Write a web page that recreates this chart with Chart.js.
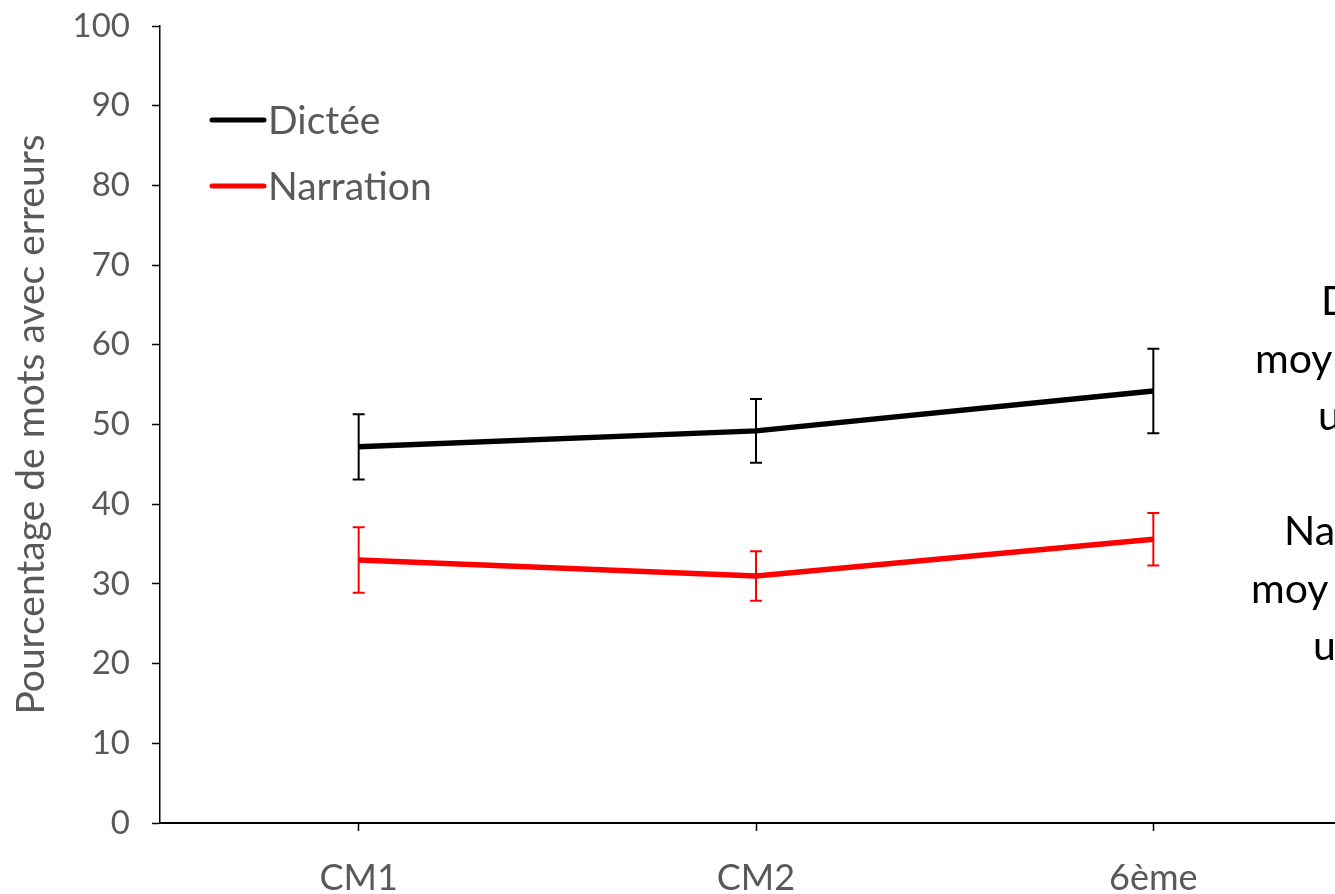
<!DOCTYPE html>
<html>
<head>
<meta charset="utf-8">
<script src="https://cdn.jsdelivr.net/npm/chart.js@4"></script>
<style>
  html, body { margin: 0; padding: 0; background: #fff; width: 1335px; height: 894px; overflow: hidden; }
  #wrap { position: relative; width: 1360px; height: 894px; }
  .side { position: absolute; font-family: Lato, "Open Sans", sans-serif; font-size: 41px; color: #000; white-space: nowrap; line-height: 1; }
</style>
</head>
<body>
<div id="wrap">
  <canvas id="chart" width="1360" height="894"></canvas>
  <div class="side" style="left:1321px; top:279px;">D</div>
  <div class="side" style="left:1255px; top:337px;">moy</div>
  <div class="side" style="left:1318px; top:394px;">u</div>
  <div class="side" style="left:1284px; top:509px;">Na</div>
  <div class="side" style="left:1251px; top:567px;">moy</div>
  <div class="side" style="left:1313px; top:624px;">u</div>
</div>
<script>
const categories = ['CM1', 'CM2', '6ème'];
const dicteeValues = [47.2, 49.2, 54.2];
const dicteeErrors = [4.1, 4.0, 5.3];
const narrationValues = [33.0, 31.0, 35.6];
const narrationErrors = [4.1, 3.1, 3.3];
const yTicks = [0, 10, 20, 30, 40, 50, 60, 70, 80, 90, 100];

const FONT = 'Lato, "Open Sans", sans-serif';
const GREY = '#595959';

// error bars drawn from the scales
const errorBars = {
  id: 'errorBars',
  afterDatasetsDraw(chart) {
    const { ctx, scales: { x, y } } = chart;
    chart.data.datasets.forEach((ds) => {
      ctx.save();
      ctx.strokeStyle = ds.borderColor;
      ctx.lineWidth = 2;
      ds.data.forEach((v, i) => {
        const px = x.getPixelForValue(i);
        const top = y.getPixelForValue(v + ds.errors[i]);
        const bot = y.getPixelForValue(v - ds.errors[i]);
        ctx.beginPath();
        ctx.moveTo(px, top); ctx.lineTo(px, bot);
        ctx.moveTo(px - 6, top); ctx.lineTo(px + 6, top);
        ctx.moveTo(px - 6, bot); ctx.lineTo(px + 6, bot);
        ctx.stroke();
      });
      ctx.restore();
    });
  }
};

// legend inside the plot, top left
const innerLegend = {
  id: 'innerLegend',
  afterDraw(chart) {
    const { ctx } = chart;
    const rows = [120, 186];
    chart.data.datasets.forEach((ds, i) => {
      ctx.save();
      ctx.strokeStyle = ds.borderColor;
      ctx.lineWidth = 5;
      ctx.lineCap = 'round';
      ctx.beginPath();
      ctx.moveTo(212, rows[i]); ctx.lineTo(264, rows[i]);
      ctx.stroke();
      ctx.fillStyle = GREY;
      ctx.font = '39px ' + FONT;
      ctx.textBaseline = 'middle';
      ctx.fillText(ds.label, 268, rows[i] + 1);
      ctx.restore();
    });
  }
};

new Chart(document.getElementById('chart'), {
  type: 'line',
  data: {
    labels: categories,
    datasets: [
      { label: 'Dictée', data: dicteeValues, errors: dicteeErrors, borderColor: '#000000', backgroundColor: '#000000', borderWidth: 5.5, pointRadius: 0, tension: 0 },
      { label: 'Narration', data: narrationValues, errors: narrationErrors, borderColor: '#ff0000', backgroundColor: '#ff0000', borderWidth: 5.5, pointRadius: 0, tension: 0 }
    ]
  },
  options: {
    responsive: false,
    animation: false,
    layout: { padding: { top: 26, right: 8, left: 0, bottom: 0 } },
    plugins: { legend: { display: false }, tooltip: { enabled: false } },
    scales: {
      x: {
        offset: true,
        grid: { display: true, drawOnChartArea: false, offset: false, tickLength: 8, color: '#000', tickWidth: 1.5 },
        border: { display: true, color: '#000', width: 2 },
        ticks: { color: GREY, font: { family: FONT, size: 36 }, padding: 26 },
        afterFit(scale) { scale.height = 71; scale.paddingLeft = 0; scale.paddingRight = 0; }
      },
      y: {
        min: 0,
        max: 100,
        afterBuildTicks(scale) { scale.ticks = yTicks.map(v => ({ value: v })); },
        grid: { display: true, drawOnChartArea: false, tickLength: 8, color: '#000', tickWidth: 1.5 },
        border: { display: true, color: '#000', width: 1.5 },
        ticks: { color: GREY, font: { family: FONT, size: 33 }, padding: 22 },
        title: { display: true, text: 'Pourcentage de mots avec erreurs', color: GREY, font: { family: FONT, size: 39 }, padding: { top: 8, bottom: 0 } },
        afterFit(scale) { scale.width = 160; scale.paddingTop = 0; scale.paddingBottom = 0; }
      }
    }
  },
  plugins: [errorBars, innerLegend]
});
</script>
</body>
</html>
